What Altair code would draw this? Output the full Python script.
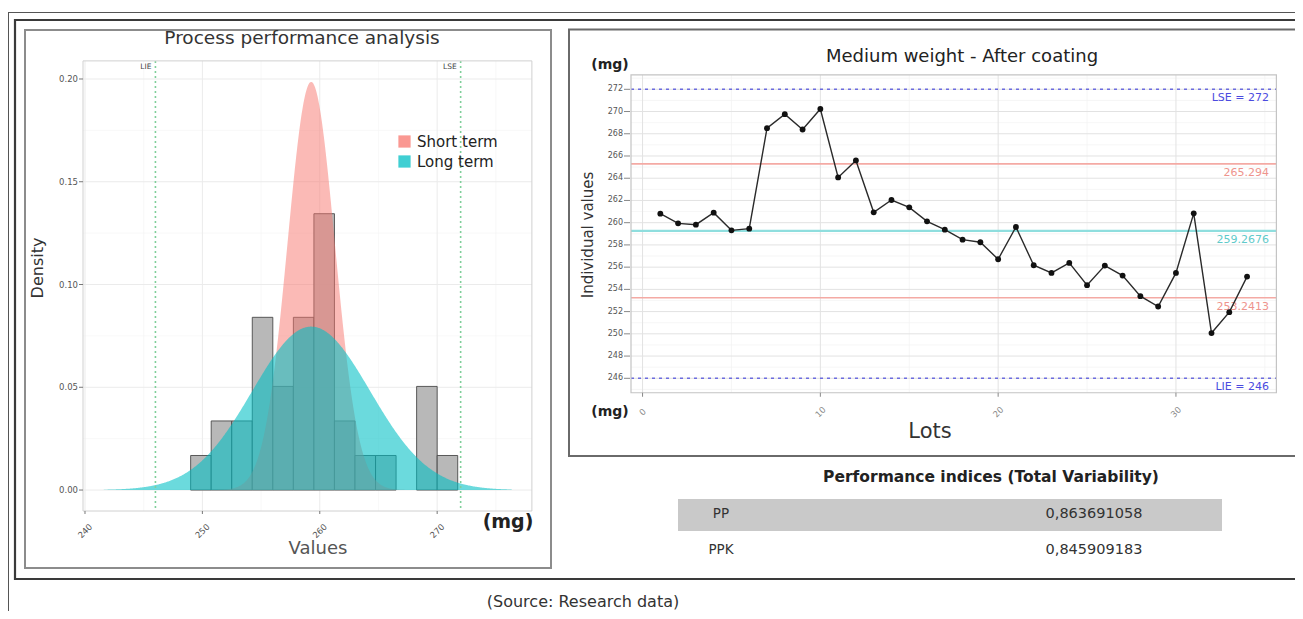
import altair as alt
import pandas as pd

# ---------------- values ----------------
# Left panel: histogram of weights on a density scale, with two normal fits
bin_lo = [249.0, 250.75, 252.5, 254.25, 256.0, 257.75, 259.5, 261.25, 263.0, 264.75, 266.5, 268.25, 270.0]
bin_hi = [250.75, 252.5, 254.25, 256.0, 257.75, 259.5, 261.25, 263.0, 264.75, 266.5, 268.25, 270.0, 271.75]
bin_count = [1, 2, 2, 5, 3, 5, 8, 2, 1, 1, 0, 3, 1]
n_obs = 34
process_mean = 259.2676
sigma_short = 2.009
sigma_long = 5.017
curve_start, curve_stop = 241.6, 276.35
spec_names = ["LIE", "LSE"]
spec_limits = [246, 272]
legend_names = ["Short term", "Long term"]
legend_colors = ["#F8766D", "#00BFC4"]
left_x_ticks = [240, 250, 260, 270]
left_x_minor = [245, 255, 265, 275]
left_y_ticks = [0.0, 0.05, 0.10, 0.15, 0.20]
left_y_minor = [0.025, 0.075, 0.125, 0.175]

# Right panel: individual values per lot
lots = list(range(1, 35))
weights = [260.81, 259.94, 259.82, 260.90, 259.31, 259.46, 268.50, 269.76, 268.38, 270.23,
           264.07, 265.60, 260.93, 262.04, 261.38, 260.12, 259.37, 258.47, 258.24, 256.71,
           259.61, 256.17, 255.48, 256.38, 254.38, 256.14, 255.24, 253.39, 252.46, 255.48,
           260.84, 250.07, 251.95, 255.15]
limit_values = [272, 246]
limit_labels = ["LSE = 272", "LIE = 246"]
control_values = [265.294, 253.2413]
control_labels = ["265.294", "253.2413"]
center_values = [259.2676]
center_labels = ["259.2676"]
right_x_ticks = [0, 10, 20, 30]
right_x_minor = [5, 15, 25, 35]
right_y_ticks = [246, 248, 250, 252, 254, 256, 258, 260, 262, 264, 266, 268, 270, 272]
right_y_minor = [245, 247, 249, 251, 253, 255, 257, 259, 261, 263, 265, 267, 269, 271, 273]

# Table of performance indices
index_names = ["PP", "PPK"]
index_values = ["0,863691058", "0,845909183"]

# ---------------- layout helpers ----------------
W, H = 1287, 603
FONT = "DejaVu Sans"
one = pd.DataFrame({"k": [0]})


def X(p):
    return p - 8


def Y(p):
    return p - 8


def frame(x1, y1, x2, y2, color, width, fill=None):
    kw = dict(stroke=color, strokeWidth=width)
    if fill:
        kw["fill"] = fill
    else:
        kw["fillOpacity"] = 0
    return alt.Chart(one).mark_rect(**kw).encode(
        x=alt.value(X(x1)), x2=alt.value(X(x2)), y=alt.value(Y(y1)), y2=alt.value(Y(y2)))


def line(x1, y1, x2, y2, color, width):
    return alt.Chart(one).mark_rule(color=color, strokeWidth=width).encode(
        x=alt.value(X(x1)), x2=alt.value(X(x2)), y=alt.value(Y(y1)), y2=alt.value(Y(y2)))


def label(text, x, y, size, color="#333", weight="normal", angle=0, align="center", font=FONT):
    kw = dict(text=text, fontSize=size, color=color, fontWeight=weight, align=align,
              baseline="middle", font=font)
    if angle:
        kw["angle"] = angle
    return alt.Chart(one).mark_text(**kw).encode(x=alt.value(X(x)), y=alt.value(Y(y)))


def hgrid(vals, yscale, x1, x2, color, width):
    return alt.Chart(pd.DataFrame({"v": vals})).mark_rule(color=color, strokeWidth=width).encode(
        y=alt.Y("v:Q", scale=yscale, axis=None), x=alt.value(X(x1)), x2=alt.value(X(x2)))


def vgrid(vals, xscale, y1, y2, color, width):
    return alt.Chart(pd.DataFrame({"v": vals})).mark_rule(color=color, strokeWidth=width).encode(
        x=alt.X("v:Q", scale=xscale, axis=None), y=alt.value(Y(y1)), y2=alt.value(Y(y2)))


def ylabels(vals, yscale, x_right, fmt, size, color):
    return alt.Chart(pd.DataFrame({"v": vals})).transform_calculate(
        lab=f"format(datum.v, '{fmt}')"
    ).mark_text(fontSize=size, color=color, font=FONT, align="right", baseline="middle").encode(
        y=alt.Y("v:Q", scale=yscale, axis=None), x=alt.value(X(x_right)), text="lab:N")


def xlabels(vals, xscale, y_center, fmt, size, color):
    return alt.Chart(pd.DataFrame({"v": vals})).transform_calculate(
        lab=f"format(datum.v, '{fmt}')"
    ).mark_text(fontSize=size, color=color, font=FONT, align="center", baseline="middle",
                angle=315).encode(
        x=alt.X("v:Q", scale=xscale, axis=None), y=alt.value(Y(y_center)), text="lab:N")


# ---------------- left panel ----------------
L_LEFT, L_RIGHT, L_TOP, L_BOTTOM = 83.0, 531.9, 60.9, 511.0
xl = alt.Scale(domain=[239.83, 278.07], range=[X(L_LEFT), X(L_RIGHT)], nice=False, zero=False)
yl = alt.Scale(domain=[-0.0102, 0.2088], range=[Y(L_BOTTOM), Y(L_TOP)], nice=False, zero=False)

hist_df = pd.DataFrame({"lo": bin_lo, "hi": bin_hi, "count": bin_count})
hist = alt.Chart(hist_df).transform_filter("datum.count > 0").transform_calculate(
    density=f"datum.count / ({n_obs} * (datum.hi - datum.lo))"
).mark_rect(fill="#b0b0b0", fillOpacity=0.9, stroke="#4a4a4a", strokeWidth=1, strokeOpacity=0.9).encode(
    x=alt.X("lo:Q", scale=xl, axis=None), x2="hi:Q",
    y=alt.Y("density:Q", scale=yl, axis=None), y2=alt.datum(0))

cscale = alt.Scale(domain=legend_names, range=legend_colors)
leg = alt.Legend(orient="none", legendX=X(397), legendY=Y(134), title=None, symbolType="square",
                 symbolSize=150, labelFontSize=15, labelFont=FONT, labelColor="#222", rowPadding=4,
                 padding=0, symbolStrokeWidth=0, labelOffset=5, symbolOpacity=0.75)


def normal_area(mean, sd, name, opacity):
    return alt.Chart(alt.sequence(curve_start, curve_stop, 0.05, as_="x")).transform_calculate(
        pdf=f"densityNormal(datum.x, {mean}, {sd})", series=f"'{name}'"
    ).mark_area(opacity=opacity).encode(
        x=alt.X("x:Q", scale=xl, axis=None),
        y=alt.Y("pdf:Q", scale=yl, axis=None), y2=alt.datum(0),
        color=alt.Color("series:N", scale=cscale, legend=leg))


short_area = normal_area(process_mean, sigma_short, legend_names[0], 0.5)
long_area = normal_area(process_mean, sigma_long, legend_names[1], 0.58)

spec_df = pd.DataFrame({"v": spec_limits, "name": spec_names})
spec_rules = alt.Chart(spec_df).mark_rule(color="#7fcf9a", strokeWidth=1.6, strokeDash=[2, 3]).encode(
    x=alt.X("v:Q", scale=xl, axis=None), y=alt.value(Y(L_TOP)), y2=alt.value(Y(L_BOTTOM)))
spec_text = alt.Chart(spec_df).mark_text(fontSize=7.5, color="#444", align="right", dx=-4, font=FONT,
                                         baseline="middle").encode(
    x=alt.X("v:Q", scale=xl, axis=None), y=alt.value(Y(67)), text="name:N")

left_ticks_y = alt.Chart(pd.DataFrame({"v": left_y_ticks})).mark_rule(color="#777", strokeWidth=1).encode(
    y=alt.Y("v:Q", scale=yl, axis=None), x=alt.value(X(L_LEFT - 4)), x2=alt.value(X(L_LEFT)))
left_ticks_x = alt.Chart(pd.DataFrame({"v": left_x_ticks})).mark_rule(color="#777", strokeWidth=1).encode(
    x=alt.X("v:Q", scale=xl, axis=None), y=alt.value(Y(L_BOTTOM)), y2=alt.value(Y(L_BOTTOM + 3)))

left = alt.layer(
    hgrid(left_y_minor, yl, L_LEFT, L_RIGHT, "#f4f4f4", 0.6),
    vgrid(left_x_minor, xl, L_TOP, L_BOTTOM, "#f4f4f4", 0.6),
    hgrid(left_y_ticks, yl, L_LEFT, L_RIGHT, "#ebebeb", 1),
    vgrid(left_x_ticks, xl, L_TOP, L_BOTTOM, "#ebebeb", 1),
    hist, short_area, long_area, spec_rules, spec_text,
    frame(L_LEFT, L_TOP, L_RIGHT, L_BOTTOM, "#d0d0d0", 1),
    left_ticks_y, left_ticks_x,
    ylabels(left_y_ticks, yl, L_LEFT - 5, ".2f", 8.5, "#555"),
    xlabels(left_x_ticks, xl, 531, "d", 8.5, "#555"),
)

# ---------------- right panel ----------------
R_LEFT, R_RIGHT, R_TOP, R_BOTTOM = 631.0, 1276.4, 74.85, 392.75
xr = alt.Scale(domain=[-0.65, 35.65], range=[X(R_LEFT), X(R_RIGHT)], nice=False, zero=False)
yr = alt.Scale(domain=[244.7, 273.3], range=[Y(R_BOTTOM), Y(R_TOP)], nice=False, zero=False)

lim_df = pd.DataFrame({"v": limit_values, "lab": limit_labels})
ctl_df = pd.DataFrame({"v": control_values, "lab": control_labels})
cen_df = pd.DataFrame({"v": center_values, "lab": center_labels})


def ref_layers(df, color, text_color, width, dash=None):
    rkw = dict(color=color, strokeWidth=width)
    if dash:
        rkw["strokeDash"] = dash
    rule = alt.Chart(df).mark_rule(**rkw).encode(
        y=alt.Y("v:Q", scale=yr, axis=None), x=alt.value(X(R_LEFT)), x2=alt.value(X(R_RIGHT)))
    txt = alt.Chart(df).mark_text(fontSize=11, color=text_color, align="right", baseline="top", dy=3,
                                  font=FONT).encode(
        y=alt.Y("v:Q", scale=yr, axis=None), x=alt.value(X(1269)), text="lab:N")
    return [rule, txt]


series_df = pd.DataFrame({"lot": lots, "w": weights})
series_line = alt.Chart(series_df).mark_line(color="#2a2a2a", strokeWidth=1.4).encode(
    x=alt.X("lot:Q", scale=xr, axis=None), y=alt.Y("w:Q", scale=yr, axis=None))
series_pts = alt.Chart(series_df).mark_circle(size=34, color="#111", opacity=1).encode(
    x=alt.X("lot:Q", scale=xr, axis=None), y=alt.Y("w:Q", scale=yr, axis=None))

right_ticks_y = alt.Chart(pd.DataFrame({"v": right_y_ticks})).mark_rule(color="#888", strokeWidth=1).encode(
    y=alt.Y("v:Q", scale=yr, axis=None), x=alt.value(X(R_LEFT - 7)), x2=alt.value(X(R_LEFT - 1)))
right_ticks_x = alt.Chart(pd.DataFrame({"v": right_x_ticks})).mark_rule(color="#888", strokeWidth=1).encode(
    x=alt.X("v:Q", scale=xr, axis=None), y=alt.value(Y(R_BOTTOM)), y2=alt.value(Y(R_BOTTOM + 4)))

right = alt.layer(
    hgrid(right_y_minor, yr, R_LEFT, R_RIGHT, "#f2f2f2", 0.7),
    vgrid(right_x_minor, xr, R_TOP, R_BOTTOM, "#f2f2f2", 0.7),
    hgrid(right_y_ticks, yr, R_LEFT, R_RIGHT, "#e2e2e2", 1),
    vgrid(right_x_ticks, xr, R_TOP, R_BOTTOM, "#e2e2e2", 1),
    *ref_layers(ctl_df, "#f4aaa4", "#ee948d", 1.6),
    *ref_layers(cen_df, "#8fdede", "#5fcaca", 2.2),
    *ref_layers(lim_df, "#6c6ce0", "#4b4be0", 1.6, [3, 4]),
    series_line, series_pts,
    frame(R_LEFT, R_TOP, R_RIGHT, R_BOTTOM, "#c4c4c4", 1.2),
    right_ticks_y, right_ticks_x,
    ylabels(right_y_ticks, yr, R_LEFT - 8, "d", 8, "#555"),
    xlabels(right_x_ticks, xr, 412, "d", 8.5, "#888"),
)

# ---------------- table ----------------
ty = alt.Scale(type="point", domain=index_names, range=[Y(514), Y(550)], padding=0)
tab_df = pd.DataFrame({"name": index_names, "val": index_values})
tab_names = alt.Chart(tab_df).mark_text(fontSize=13.5, color="#333", font=FONT, baseline="middle").encode(
    y=alt.Y("name:N", scale=ty, axis=None), x=alt.value(X(721)), text="name:N")
tab_vals = alt.Chart(tab_df).mark_text(fontSize=14.5, color="#333", font=FONT, baseline="middle").encode(
    y=alt.Y("name:N", scale=ty, axis=None), x=alt.value(X(1094)), text="val:N")
table = alt.layer(tab_names, tab_vals)

# ---------------- frames and free text ----------------
back = [
    line(8, 12.5, 1303, 12.5, "#555", 1),
    line(8.5, 12.5, 8.5, 640, "#555", 1),
    frame(15, 20, 1330, 579, "#3a3a3a", 2.2),
    frame(25, 30, 551, 568, "#8c8c8c", 2),
    frame(569, 29.5, 1297, 456, "#6a6a6a", 2),
    frame(678, 499, 1222, 531, "#c9c9c9", 0, fill="#c9c9c9"),
]

texts = [
    label("Process performance analysis", 302, 38, 18.5, "#333"),
    label("Density", 38, 268, 16, "#333", angle=270),
    label("Values", 318, 549, 18, "#555"),
    label("(mg)", 508, 522, 19, "#222", weight="bold"),
    label("Medium weight - After coating", 962, 57, 18, "#222"),
    label("(mg)", 610, 65, 14, "#222", weight="bold"),
    label("(mg)", 610, 412, 14, "#222", weight="bold"),
    label("Individual values", 588, 235, 15, "#333", angle=270),
    label("Lots", 930, 432, 21, "#333"),
    label("Performance indices (Total Variability)", 991, 477, 15.5, "#222", weight="bold"),
    label("(Source: Research data)", 583, 602, 16, "#333"),
]

chart = alt.layer(*back, left, right, table, *texts).resolve_scale(
    x="independent", y="independent"
).properties(
    width=W, height=H, padding=0, autosize=alt.AutoSizeParams(type="none"), background="white"
).configure_view(strokeWidth=0)

chart.save("out.html", embed_options={"renderer": "svg", "actions": False})
